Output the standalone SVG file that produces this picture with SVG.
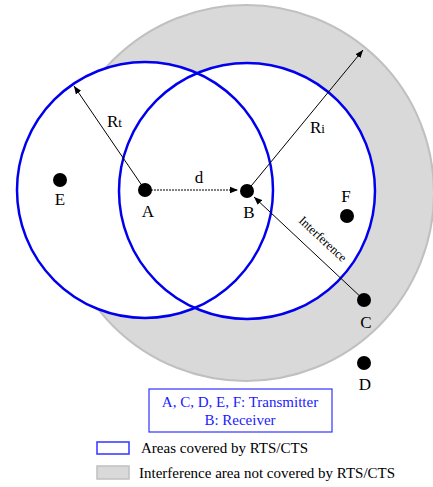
<svg xmlns="http://www.w3.org/2000/svg" width="433" height="487" viewBox="0 0 433 487">
<style>
.lbl{font-family:"Liberation Serif",serif;font-size:17px;fill:#000;text-anchor:middle}
.sub{font-family:"Liberation Serif",serif;font-size:17px;fill:#000}
.dot{fill:#000}
.blue{fill:none;stroke:#0000ee;stroke-width:2.5}
.wht{fill:#fff;stroke:none}
.ln{stroke:#000;stroke-width:1;fill:none}
.leg{font-family:"Liberation Serif",serif;font-size:15px;fill:#000}
.legb{font-family:"Liberation Serif",serif;font-size:15px;fill:#1a1aff;text-anchor:middle}
.intf{font-family:"Liberation Serif",serif;font-size:12.5px;fill:#000;text-anchor:middle}
</style>
<defs>
<marker id="ah" viewBox="0 0 10 10" refX="10" refY="5" markerWidth="8" markerHeight="8" markerUnits="userSpaceOnUse" orient="auto">
<path d="M0,1 L10,5 L0,9 z" fill="#000"/>
</marker>
</defs>
<g id="interference-area">
<circle cx="246" cy="193" r="188" fill="#d9d9d9" stroke="#c0c0c0" stroke-width="2"/>
</g>
<g id="coverage-areas">
<circle class="wht" cx="145" cy="190" r="128"/>
<circle class="wht" cx="247" cy="191" r="128"/>
<circle class="blue" cx="145" cy="190" r="128"/>
<circle class="blue" cx="247" cy="191" r="128"/>
</g>
<g id="connectors">
<line class="ln" x1="145" y1="190" x2="74" y2="86" marker-end="url(#ah)"/>
<line class="ln" x1="247" y1="191" x2="363" y2="50" marker-end="url(#ah)"/>
<line class="ln" x1="145" y1="190" x2="238" y2="190" stroke-dasharray="2,1" stroke-width="1.5" marker-end="url(#ah)"/>
<line class="ln" x1="364" y1="300" x2="254" y2="197" marker-end="url(#ah)"/>
<text class="sub" x="107" y="127">R<tspan font-size="13">t</tspan></text>
<text class="sub" x="310" y="133">R<tspan font-size="13">i</tspan></text>
<text class="lbl" x="199" y="183">d</text>
<text class="intf" transform="translate(320,242) rotate(43)">Interference</text>
</g>
<g id="node-E"><circle class="dot" cx="60" cy="180" r="7"/><text class="lbl" x="60" y="205">E</text></g>
<g id="node-A"><circle class="dot" cx="145" cy="190" r="7"/><text class="lbl" x="148" y="217">A</text></g>
<g id="node-B"><circle class="dot" cx="247" cy="191" r="7"/><text class="lbl" x="249" y="218">B</text></g>
<g id="node-F"><circle class="dot" cx="347" cy="216" r="7"/><text class="lbl" x="346" y="202">F</text></g>
<g id="node-C"><circle class="dot" cx="364" cy="300" r="7"/><text class="lbl" x="366" y="328">C</text></g>
<g id="node-D"><circle class="dot" cx="364" cy="363" r="7"/><text class="lbl" x="365" y="390">D</text></g>
<g id="legend">
<rect x="149" y="389" width="183" height="43" fill="#fff" stroke="#3333ff" stroke-width="1.2"/>
<text class="legb" x="240" y="407">A, C, D, E, F: Transmitter</text>
<text class="legb" x="240" y="425">B: Receiver</text>
<rect x="97" y="442" width="32" height="12" fill="#fff" stroke="#3333ff" stroke-width="1.5"/>
<text class="leg" x="141" y="453">Areas covered by RTS/CTS</text>
<rect x="97" y="466" width="32" height="13" fill="#d9d9d9" stroke="#c0c0c0" stroke-width="1.5"/>
<text class="leg" x="139" y="478">Interference area not covered by RTS/CTS</text>
</g>
</svg>
